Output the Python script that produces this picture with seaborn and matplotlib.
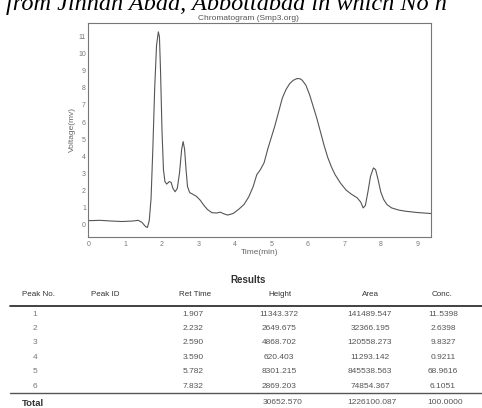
import matplotlib
matplotlib.use("Agg")
import matplotlib.pyplot as plt
import seaborn as sns
import pandas as pd
from matplotlib.lines import Line2D

# ---- chromatogram trace ----
time_min = [0.0, 0.3, 0.6, 0.9, 1.2, 1.35, 1.45, 1.55, 1.6, 1.65, 1.7, 1.75, 1.8, 1.85,
            1.9, 1.93, 1.96, 2.0, 2.04, 2.08, 2.13, 2.2, 2.25, 2.3, 2.36, 2.42, 2.48,
            2.54, 2.58, 2.62, 2.66, 2.7, 2.76, 2.85, 2.95, 3.05, 3.15, 3.25, 3.37, 3.5,
            3.6, 3.7, 3.8, 3.95, 4.1, 4.25, 4.38, 4.5, 4.6, 4.7, 4.8, 4.9, 5.0, 5.1,
            5.2, 5.3, 5.4, 5.5, 5.6, 5.7, 5.78, 5.85, 5.95, 6.05, 6.15, 6.25, 6.35,
            6.45, 6.55, 6.65, 6.75, 6.9, 7.05, 7.2, 7.35, 7.45, 7.52, 7.58, 7.65, 7.72,
            7.8, 7.86, 7.93, 8.0, 8.08, 8.17, 8.3, 8.5, 8.7, 9.0, 9.38]
voltage_mv = [0.2, 0.22, 0.18, 0.15, 0.18, 0.22, 0.1, -0.15, -0.2, 0.2, 1.5, 4.5, 8.0, 10.5,
              11.3, 11.0, 9.0, 5.5, 3.2, 2.5, 2.35, 2.5, 2.45, 2.1, 1.9, 2.1, 3.0,
              4.4, 4.85, 4.4, 3.2, 2.2, 1.85, 1.75, 1.62, 1.4, 1.1, 0.85, 0.67, 0.65,
              0.7, 0.6, 0.53, 0.62, 0.86, 1.15, 1.6, 2.2, 2.9, 3.2, 3.6, 4.4, 5.1, 5.8,
              6.6, 7.4, 7.9, 8.25, 8.45, 8.55, 8.55, 8.45, 8.15, 7.6, 6.9, 6.2, 5.4,
              4.6, 3.9, 3.35, 2.9, 2.4, 2.0, 1.75, 1.55, 1.3, 0.95, 1.1, 1.9, 2.8,
              3.3, 3.2, 2.6, 1.9, 1.45, 1.15, 0.95, 0.82, 0.75, 0.68, 0.62]
x_ticks = [0, 1, 2, 3, 4, 5, 6, 7, 8, 9]
y_ticks = [0, 1, 2, 3, 4, 5, 6, 7, 8, 9, 10, 11]

# ---- results table ----
col_headers = ["Peak No.", "Peak ID", "Ret Time", "Height", "Area", "Conc."]
peak_no = ["1", "2", "3", "4", "5", "6"]
ret_time = ["1.907", "2.232", "2.590", "3.590", "5.782", "7.832"]
height = ["11343.372", "2649.675", "4868.702", "620.403", "8301.215", "2869.203"]
area = ["141489.547", "32366.195", "120558.273", "11293.142", "845538.563", "74854.367"]
conc = ["11.5398", "2.6398", "9.8327", "0.9211", "68.9616", "6.1051"]
total_row = ["Total", "30652.570", "1226100.087", "100.0000"]

sns.set_theme(style="white")
plt.rcParams["font.family"] = ["Liberation Sans", "DejaVu Sans"]

W, H = 482, 408
fig = plt.figure(figsize=(W / 100, H / 100), dpi=100)
fig.patch.set_facecolor("white")

def fx(x):
    return x / W

def fy(y):
    return 1 - y / H

ax = fig.add_axes([fx(88), fy(237), (431 - 88) / W, (237 - 23) / H])
df = pd.DataFrame({"Time(min)": time_min, "Voltage(mv)": voltage_mv})
sns.lineplot(data=df, x="Time(min)", y="Voltage(mv)", ax=ax, sort=False,
             estimator=None, color="#555555", linewidth=0.8)
ax.set_xlim(-0.03, 9.38)
ax.set_ylim(-0.76, 11.82)
ax.set_xticks(x_ticks)
ax.set_yticks(y_ticks)
ax.tick_params(axis="both", length=0, labelsize=5, colors="#777777")
ax.tick_params(axis="y", pad=1.5)
ax.tick_params(axis="x", pad=3)
for s in ax.spines.values():
    s.set_color("#777777")
    s.set_linewidth(0.8)
ax.set_xlabel("")
ax.set_ylabel("")
fig.text(fx(260), fy(253), "Time(min)", ha="center", va="center", fontsize=6, color="#666666")
fig.text(fx(72), fy(130), "Voltage(mv)", ha="center", va="center", fontsize=6,
         color="#666666", rotation=90)
fig.text(fx(248), fy(19), "Chromatogram (Smp3.org)", ha="center", va="center",
         fontsize=6, color="#555555")

# cropped caption line at top
fig.text(fx(6), fy(10), "from Jinnah Abad, Abbottabad in which No n", ha="left",
         va="baseline", fontsize=17.5, style="italic", family="Liberation Serif", color="black")

# table
fig.text(fx(248), fy(280), "Results", ha="center", va="center", fontsize=7,
         fontweight="bold", color="#333333")
hdr_x = [38, 105, 195, 280, 370, 442]
for hx, htxt in zip(hdr_x, col_headers):
    fig.text(fx(hx), fy(295), htxt, ha="center", va="center", fontsize=5.8, color="#333333")
fig.add_artist(Line2D([fx(10), fx(482)], [fy(306), fy(306)], color="#333333", linewidth=1.3))
fig.add_artist(Line2D([fx(10), fx(482)], [fy(393), fy(393)], color="#555555", linewidth=1.0))

for i in range(len(peak_no)):
    yy = fy(314 + 14.4 * i)
    fig.text(fx(35), yy, peak_no[i], ha="center", va="center", fontsize=6, color="#777777")
    fig.text(fx(193), yy, ret_time[i], ha="center", va="center", fontsize=6, color="#555555")
    fig.text(fx(279), yy, height[i], ha="center", va="center", fontsize=6, color="#555555")
    fig.text(fx(370), yy, area[i], ha="center", va="center", fontsize=6, color="#555555")
    fig.text(fx(443), yy, conc[i], ha="center", va="center", fontsize=6, color="#555555")

fig.text(fx(22), fy(403), total_row[0], ha="left", va="center", fontsize=6.8,
         fontweight="bold", color="#333333")
fig.text(fx(283), fy(403), total_row[1], ha="center", va="center", fontsize=6, color="#555555")
fig.text(fx(372), fy(403), total_row[2], ha="center", va="center", fontsize=6, color="#555555")
fig.text(fx(445), fy(403), total_row[3], ha="center", va="center", fontsize=6, color="#555555")

fig.savefig("out.png", dpi=100, facecolor="white")
